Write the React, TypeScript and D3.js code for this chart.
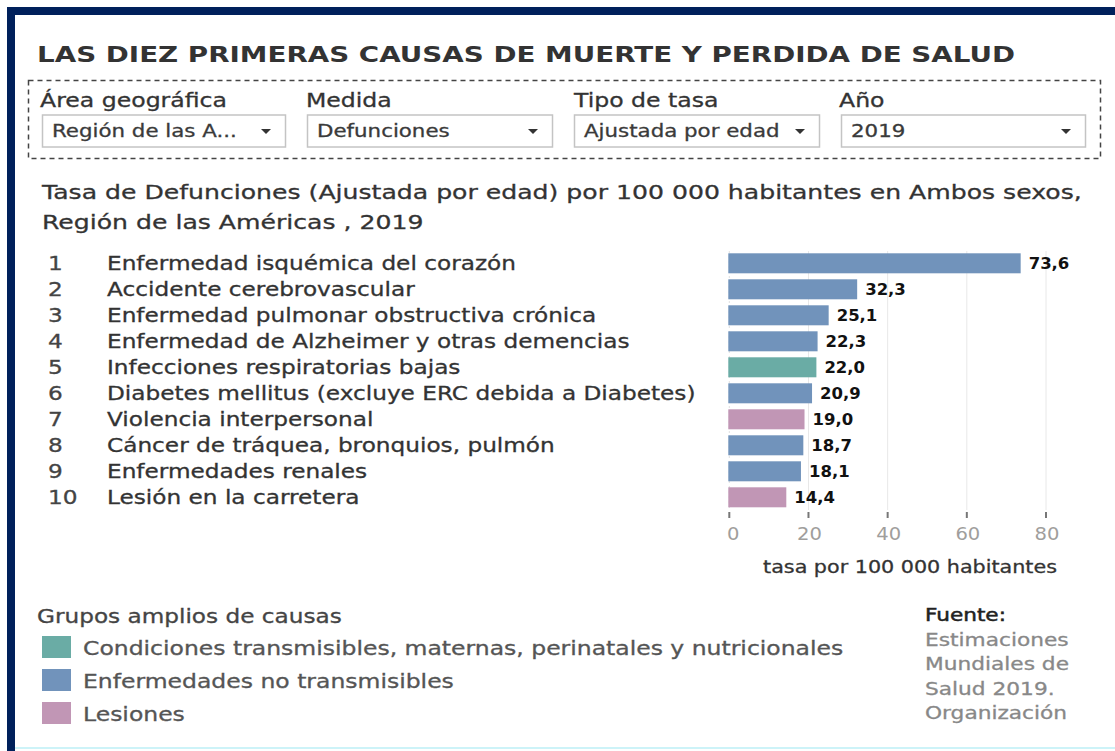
import React from 'react';
import * as d3 from 'd3';

const ranks = [1, 2, 3, 4, 5, 6, 7, 8, 9, 10];
const causes = [
  'Enfermedad isquémica del corazón',
  'Accidente cerebrovascular',
  'Enfermedad pulmonar obstructiva crónica',
  'Enfermedad de Alzheimer y otras demencias',
  'Infecciones respiratorias bajas',
  'Diabetes mellitus (excluye ERC debida a Diabetes)',
  'Violencia interpersonal',
  'Cáncer de tráquea, bronquios, pulmón',
  'Enfermedades renales',
  'Lesión en la carretera',
];
const values = [73.6, 32.3, 25.1, 22.3, 22.0, 20.9, 19.0, 18.7, 18.1, 14.4];
const groups = ['ENT', 'ENT', 'ENT', 'ENT', 'CT', 'ENT', 'L', 'ENT', 'ENT', 'L'];
const groupKeys = ['CT', 'ENT', 'L'];
const groupNames = [
  'Condiciones transmisibles, maternas, perinatales y nutricionales',
  'Enfermedades no transmisibles',
  'Lesiones',
];
const groupColors = ['#6aaca5', '#7193bb', '#c196b5'];
const xTicks = [0, 20, 40, 60, 80];

const filterLabels = ['Área geográfica', 'Medida', 'Tipo de tasa', 'Año'];
const filterValues = ['Región de las A...', 'Defunciones', 'Ajustada por edad', '2019'];
const sourceLines = ['Estimaciones', 'Mundiales de', 'Salud 2019.', 'Organización'];

const FONT = '"DejaVu Sans", Verdana, sans-serif';
const SX = 1.15;

function T({ x, y, size, fill = '#333', weight = 'normal', anchor = 'start', sx = SX, sw = 0.3, children }: any) {
  return (
    <text
      transform={`translate(${x},${y}) scale(${sx},1)`}
      fontSize={size}
      fill={fill}
      stroke={sw > 0 ? fill : 'none'}
      strokeWidth={sw}
      fontWeight={weight}
      textAnchor={anchor}
      fontFamily={FONT}
    >
      {children}
    </text>
  );
}

export default function App() {
  const x = d3.scaleLinear().domain([0, 80]).range([729.3, 1046]);
  const y = d3
    .scaleBand<number>()
    .domain(ranks)
    .range([250.3, 510.3])
    .paddingInner(6 / 26)
    .paddingOuter(3 / 26);
  const color = d3.scaleOrdinal<string, string>().domain(groupKeys).range(groupColors);
  const fmt = (v: number) => d3.format('.1f')(v).replace('.', ',');

  const boxX = [42, 307, 574, 841];
  const boxW = [243, 245, 245, 244];
  const labelX = [40, 306, 574, 839];

  return (
    <svg
      width={1115}
      height={751}
      style={{ position: 'absolute', left: 0, top: 0, background: '#fff' }}
    >
      <rect x={0} y={0} width={1115} height={751} fill="#fff" />
      {/* frame */}
      <rect x={7} y={7} width={1108} height={8} fill="#00205b" />
      <rect x={7} y={7} width={8} height={744} fill="#00205b" />
      <rect x={15} y={747} width={1100} height={2} fill="#cdf3f8" />

      {/* title */}
      <text
        x={37}
        y={62}
        fontSize={22}
        fontWeight="bold"
        fill="#333"
        fontFamily={FONT}
        textLength={978}
        lengthAdjust="spacingAndGlyphs"
      >
        LAS DIEZ PRIMERAS CAUSAS DE MUERTE Y PERDIDA DE SALUD
      </text>

      {/* filter area */}
      <rect
        x={28.5}
        y={80.5}
        width={1072}
        height={78}
        fill="none"
        stroke="#444"
        strokeWidth={1.5}
        strokeDasharray="5,4"
      />
      {filterLabels.map((l, i) => (
        <T key={l} x={labelX[i]} y={107} size={19.5} sx={1.21}>
          {l}
        </T>
      ))}
      {filterValues.map((v, i) => (
        <g key={v}>
          <rect
            x={boxX[i] + 0.5}
            y={115}
            width={boxW[i]}
            height={32}
            fill="#fff"
            stroke="#c4c4c4"
            strokeWidth={1.5}
          />
          <T x={boxX[i] + 10} y={137} size={17.5} sx={1.22} fill="#3a3a3a">
            {v}
          </T>
          <path
            d={`M${boxX[i] + boxW[i] - 24},129 L${boxX[i] + boxW[i] - 14},129 L${boxX[i] + boxW[i] - 19},134 Z`}
            fill="#333"
          />
        </g>
      ))}

      {/* subtitle */}
      <T x={42} y={199} size={20} sx={1.257}>
        Tasa de Defunciones (Ajustada por edad) por 100 000 habitantes en Ambos sexos,
      </T>
      <T x={42} y={229} size={20} sx={1.257}>
        Región de las Américas , 2019
      </T>

      {/* gridlines */}
      {xTicks.map((t) => (
        <line
          key={'g' + t}
          x1={x(t)}
          x2={x(t)}
          y1={251}
          y2={510}
          stroke={t === 0 ? '#e0e0e0' : '#e8e8e8'}
          strokeWidth={1}
          strokeDasharray={t === 0 ? '2,3' : undefined}
        />
      ))}

      {/* rows */}
      {ranks.map((r, i) => {
        const yc = (y(r) as number) + y.bandwidth() / 2;
        return (
          <g key={r}>
            <T x={48} y={yc + 7} size={19.5} sx={1.19} fill="#444">
              {r}
            </T>
            <T x={107} y={yc + 7} size={19.5} sx={1.19} fill="#333">
              {causes[i]}
            </T>
            <rect
              x={x(0) - 1}
              y={y(r)}
              width={x(values[i]) - x(0) + 1}
              height={y.bandwidth()}
              fill={color(groups[i])}
            />
            <T x={x(values[i]) + 8} y={yc + 5.5} size={15} weight="bold" fill="#111" sx={1.1} sw={0}>
              {fmt(values[i])}
            </T>
          </g>
        );
      })}

      {/* axis */}
      {xTicks.map((t) => (
        <g key={'t' + t}>
          <line x1={x(t)} x2={x(t)} y1={512} y2={518} stroke="#777" strokeWidth={2} />
          <T x={x(t) + (t === 0 ? 4 : 1)} y={540} size={17} fill="#a09e9c" anchor="middle" sw={0}>
            {t}
          </T>
        </g>
      ))}
      <T x={910} y={573} size={18} anchor="middle" fill="#333">
        tasa por 100 000 habitantes
      </T>

      {/* legend */}
      <T x={37} y={623} size={19} sx={1.22} fill="#444">
        Grupos amplios de causas
      </T>
      {groupKeys.map((k, i) => (
        <g key={k}>
          <rect x={42} y={636 + i * 33} width={29} height={22} fill={color(k)} />
          <T x={83} y={655 + i * 33} size={19} sx={1.237} fill="#555">
            {groupNames[i]}
          </T>
        </g>
      ))}

      {/* source */}
      <T x={925} y={621} size={18} sx={1.2} fill="#222" sw={0.5}>
        Fuente:
      </T>
      {sourceLines.map((s, i) => (
        <T key={s} x={925} y={646 + i * 24.3} size={17.5} sx={1.24} fill="#888">
          {s}
        </T>
      ))}
    </svg>
  );
}
